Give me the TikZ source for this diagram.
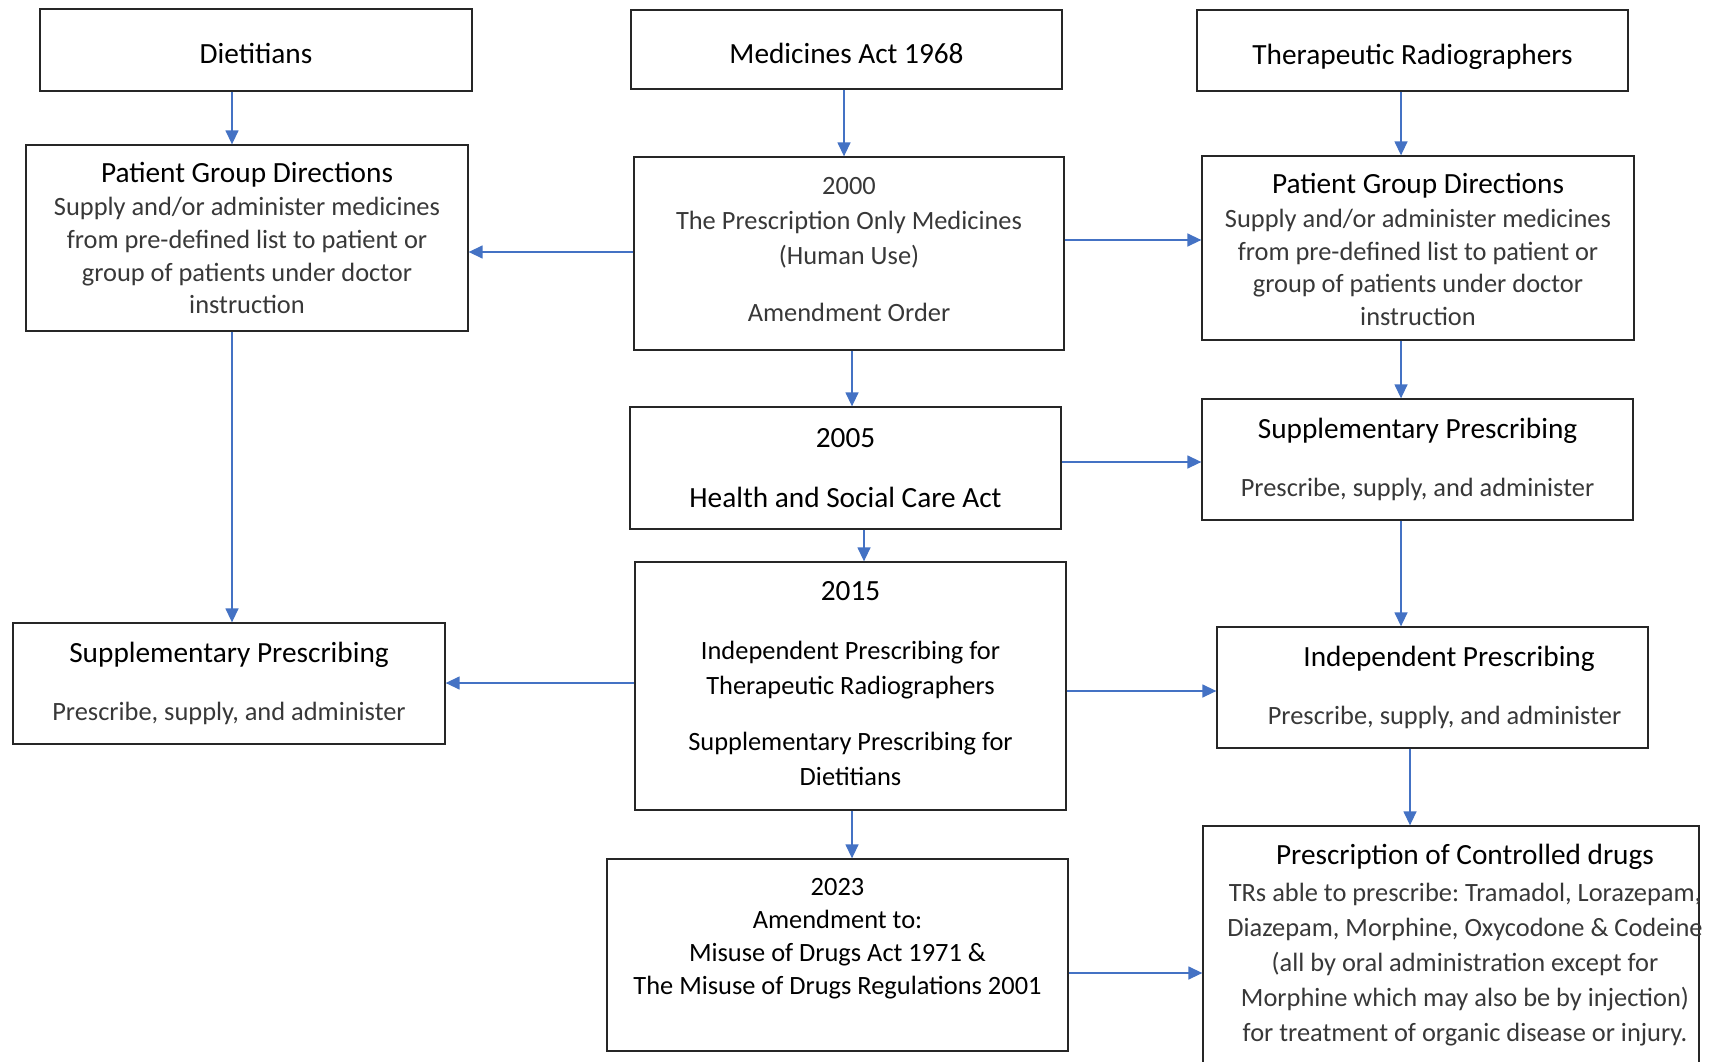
\documentclass[tikz,border=0pt]{standalone}
\usepackage{fontspec}
\setmainfont{Carlito}
\usetikzlibrary{arrows.meta}
\frenchspacing

\definecolor{linkblue}{RGB}{68,114,196}
\colorlet{lighttext}{black!78}
\newcommand\hdsize{\fontsize{29.3}{34}\selectfont}
\newcommand\bdsize{\fontsize{26.4}{32.7}\selectfont}
\newcommand\hd[1]{{\color{black}\hdsize #1}}

\tikzset{
  box/.style={draw=black!85, line width=1.3pt, minimum width=431pt,
              align=center, inner sep=0pt, font=\bdsize},
  titlebox/.style={box, font=\hdsize, text height=30pt, text depth=2pt},
  lightbox/.style={box, text=lighttext},
  link/.style={draw=linkblue, line width=1.4pt,
               -{Triangle[length=14pt,width=13pt]}},
}

\begin{document}
\begin{tikzpicture}[x=1pt,y=-1pt]
    \useasboundingbox (0,0) rectangle (1710,1062);

    % top row
    \node[titlebox, minimum width=432pt, minimum height=82pt] (dt) at (256,50) {Dietitians};
    \node[titlebox, minimum height=79pt] (med) at (846.5,49.5) {Medicines Act 1968};
    \node[titlebox, minimum height=81pt] (tr) at (1412.5,50.5) {Therapeutic Radiographers};

    % patient group directions
    \node[lightbox, minimum width=442pt, minimum height=186pt] (pgdl) at (247,238)
      {\hd{Patient Group Directions}\\[1pt]
       Supply and/or administer medicines\\ from pre-defined list to patient or\\
       group of patients under doctor\\ instruction};
    \node[lightbox, minimum width=432pt, minimum height=184pt, text height=155pt] (pgdr) at (1418,248)
      {\hd{Patient Group Directions}\\[1pt]
       Supply and/or administer medicines\\ from pre-defined list to patient or\\
       group of patients under doctor\\ instruction};

    % the legislation column
    \node[lightbox, minimum width=430pt, minimum height=193pt, text depth=9pt,
          font=\fontsize{26.4}{35}\selectfont] (po) at (849,253.5)
      {2000\\ The Prescription Only Medicines\\ (Human Use)\\[22pt] Amendment Order};
    \node[box, minimum height=122pt, font=\hdsize] (hsc) at (845.5,468)
      {2005\\[26pt] Health and Social Care Act};
    \node[box, minimum height=248pt, text depth=5.5pt,
          font=\fontsize{26.4}{35}\selectfont] (ip) at (850.5,686)
      {\hd{2015}\\[24pt]
       Independent Prescribing for\\ Therapeutic Radiographers\\[21pt]
       Supplementary Prescribing for\\ Dietitians};
    \node[box, minimum width=461pt, minimum height=192pt] (md) at (837.5,955) {};
    \node[align=center, font=\fontsize{26.4}{33}\selectfont] (mdtxt) at (837.5,939)
      {2023\\ Amendment to:\\ Misuse of Drugs Act 1971 \&\\ The Misuse of Drugs Regulations 2001};

    % prescribing boxes
    \node[lightbox, minimum height=121pt] (spr) at (1417.5,459.5)
      {\hd{Supplementary Prescribing}\\[25pt] Prescribe, supply, and administer};
    \node[lightbox, minimum width=432pt, minimum height=121pt] (spl) at (229,683.5)
      {\hd{Supplementary Prescribing}\\[25pt] Prescribe, supply, and administer};
    \node[lightbox, minimum height=121pt] (ipr) at (1432.5,687.5)
      {\hd{\hspace*{33pt}Independent Prescribing}\\[25pt]
       \hspace*{24pt}Prescribe, supply, and administer};

    % controlled drugs (runs off the page)
    \node[box, minimum width=496pt, minimum height=264pt] (cd) at (1451,958) {};
    \node[align=center, text=lighttext, font=\fontsize{26.4}{35}\selectfont] (cdtxt) at (1465,945.5)
      {\hd{Prescription of Controlled drugs}\\[2pt]
       TRs able to prescribe: Tramadol, Lorazepam,\\
       Diazepam, Morphine, Oxycodone \& Codeine\\
       (all by oral administration except for\\
       Morphine which may also be by injection)\\
       for treatment of organic disease or injury.};

    % where the connectors run
    \coordinate (xl) at (232,0);
    \coordinate (xm) at (844,0);
    \coordinate (xn) at (852,0);
    \coordinate (xo) at (864,0);
    \coordinate (xr) at (1401,0);
    \coordinate (xs) at (1410,0);
    \coordinate (ya) at (0,252);
    \coordinate (yb) at (0,240);
    \coordinate (yc) at (0,462);
    \coordinate (yd) at (0,683);
    \coordinate (ye) at (0,691);
    \coordinate (yf) at (0,973);

    % connectors
    \draw[link] (dt.south -| xl) -- (pgdl.north -| xl);
    \draw[link] (pgdl.south -| xl) -- (spl.north -| xl);
    \draw[link] (med.south -| xm) -- (po.north -| xm);
    \draw[link] (po.west |- ya) -- (pgdl.east |- ya);
    \draw[link] (po.east |- yb) -- (pgdr.west |- yb);
    \draw[link] (tr.south -| xr) -- (pgdr.north -| xr);
    \draw[link] (po.south -| xn) -- (hsc.north -| xn);
    \draw[link] (hsc.east |- yc) -- (spr.west |- yc);
    \draw[link] (pgdr.south -| xr) -- (spr.north -| xr);
    \draw[link] (hsc.south -| xo) -- (ip.north -| xo);
    \draw[link] (spr.south -| xr) -- (ipr.north -| xr);
    \draw[link] (ip.west |- yd) -- (spl.east |- yd);
    \draw[link] (ip.east |- ye) -- (ipr.west |- ye);
    \draw[link] (ip.south -| xn) -- (md.north -| xn);
    \draw[link] (ipr.south -| xs) -- (cd.north -| xs);
    \draw[link] (md.east |- yf) -- (cd.west |- yf);
\end{tikzpicture}
\end{document}
